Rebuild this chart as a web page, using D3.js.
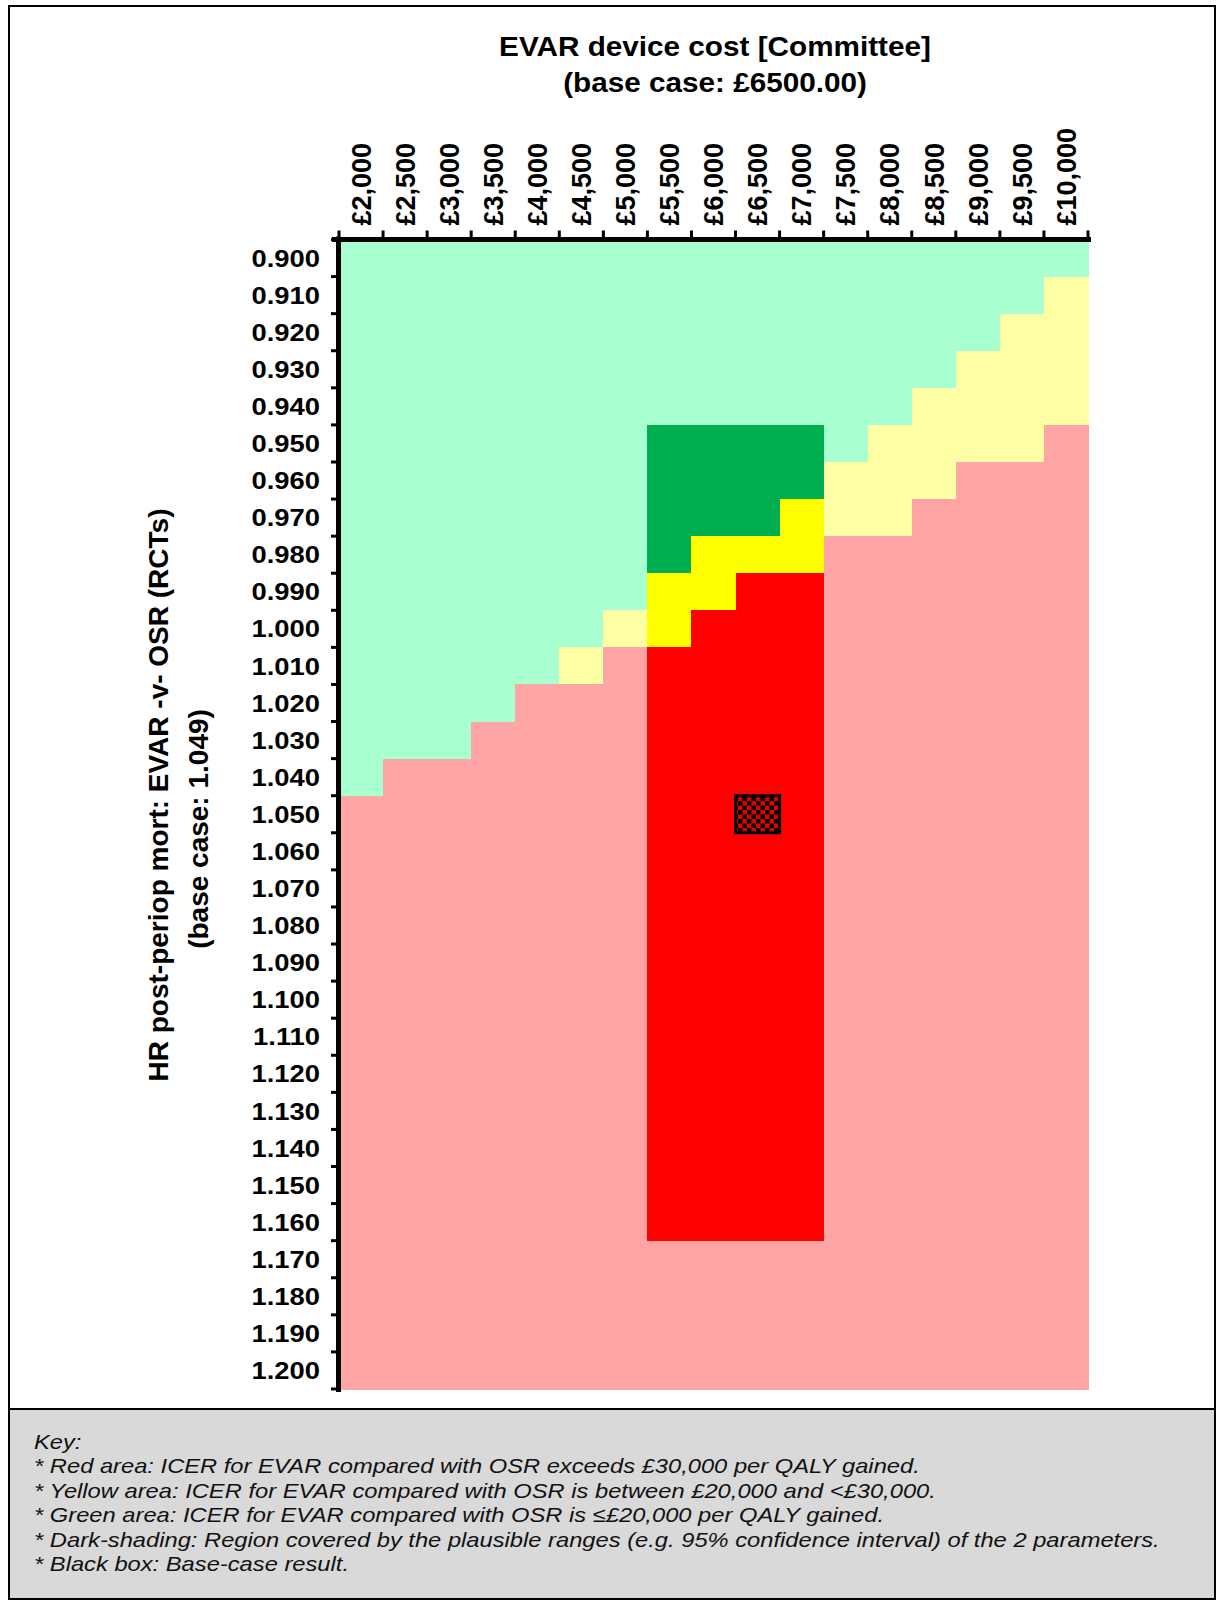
<!DOCTYPE html>
<html>
<head>
<meta charset="utf-8">
<script src="https://cdn.jsdelivr.net/npm/d3@7"></script>
<style>
  body { margin: 0; background: #fff; }
  text { font-family: "Liberation Sans", Arial, sans-serif; }
</style>
</head>
<body>
<div id="chart"></div>
<script>
// EVAR device cost columns (x) and HR rows (y)
var costs = [2000, 2500, 3000, 3500, 4000, 4500, 5000, 5500, 6000, 6500, 7000, 7500, 8000, 8500, 9000, 9500, 10000];
var hrs = [0.900, 0.910, 0.920, 0.930, 0.940, 0.950, 0.960, 0.970, 0.980, 0.990,
           1.000, 1.010, 1.020, 1.030, 1.040, 1.050, 1.060, 1.070, 1.080, 1.090,
           1.100, 1.110, 1.120, 1.130, 1.140, 1.150, 1.160, 1.170, 1.180, 1.190, 1.200];

// per cost column: last HR still green (<= £20k) and first HR already red (> £30k)
var greenMaxHR = [1.040, 1.030, 1.030, 1.020, 1.010, 1.000, 0.990, 0.980, 0.970, 0.970, 0.960, 0.950, 0.940, 0.930, 0.920, 0.910, 0.900];
var redMinHR   = [1.050, 1.040, 1.040, 1.030, 1.020, 1.020, 1.010, 1.010, 1.000, 0.990, 0.990, 0.980, 0.980, 0.970, 0.960, 0.960, 0.950];

// plausible ranges (dark shading) and base case
var plausibleCost = [5500, 7000];
var plausibleHR = [0.950, 1.160];
var baseCost = 6500, baseHR = 1.050;

var keyLines = [
  "Key:",
  "* Red area: ICER for EVAR compared with OSR exceeds £30,000 per QALY gained.",
  "* Yellow area: ICER for EVAR compared with OSR is between £20,000 and <£30,000.",
  "* Green area: ICER for EVAR compared with OSR is \u2264£20,000 per QALY gained.",
  "* Dark-shading: Region covered by the plausible ranges (e.g. 95% confidence interval) of the 2 parameters.",
  "* Black box: Base-case result."
];

var colors = {
  light: {green: "#a8ffcf", yellow: "#ffffa5", red: "#ffa5a5"},
  dark:  {green: "#00b050", yellow: "#ffff00", red: "#ff0000"}
};

var W = 1224, H = 1603;
var x0 = 339, x1 = 1088, y0 = 239.5, y1 = 1389;

var svg = d3.select("#chart").append("svg")
  .attr("width", W)
  .attr("height", H);

// outer frame + key box
svg.append("rect")
  .attr("x", 9).attr("y", 6).attr("width", 1206).attr("height", 1593)
  .attr("fill", "#fff").attr("stroke", "#000").attr("stroke-width", 2);
svg.append("rect")
  .attr("x", 9).attr("y", 1409).attr("width", 1206).attr("height", 190)
  .attr("fill", "#d9d9d9").attr("stroke", "#000").attr("stroke-width", 2);

var x = d3.scaleBand().domain(costs).range([x0, x1]).padding(0);
var y = d3.scaleBand().domain(hrs).range([y0, y1]).padding(0);

// build the cells
var cells = [];
costs.forEach(function(c, i) {
  hrs.forEach(function(h) {
    var k = Math.round(h * 1000);
    var zone = k <= Math.round(greenMaxHR[i] * 1000) ? "green"
             : (k >= Math.round(redMinHR[i] * 1000) ? "red" : "yellow");
    var dark = c >= plausibleCost[0] && c <= plausibleCost[1] &&
               k >= Math.round(plausibleHR[0] * 1000) && k <= Math.round(plausibleHR[1] * 1000);
    cells.push({cost: c, hr: h, zone: zone, dark: dark});
  });
});

svg.append("g")
  .attr("shape-rendering", "crispEdges")
  .selectAll("rect")
  .data(cells)
  .enter()
  .append("rect")
    .attr("x", function(d) { return x(d.cost); })
    .attr("y", function(d) { return y(d.hr); })
    .attr("width", x.bandwidth() + 0.5)
    .attr("height", y.bandwidth() + 0.5)
    .attr("fill", function(d) { return d.dark ? colors.dark[d.zone] : colors.light[d.zone]; });

// checker pattern for base-case box
var pat = svg.append("defs").append("pattern")
  .attr("id", "checker")
  .attr("patternUnits", "userSpaceOnUse")
  .attr("width", 9).attr("height", 9);
pat.append("rect").attr("width", 9).attr("height", 9).attr("fill", "#e00000");
pat.append("rect").attr("width", 4.5).attr("height", 4.5).attr("fill", "#000");
pat.append("rect").attr("x", 4.5).attr("y", 4.5).attr("width", 4.5).attr("height", 4.5).attr("fill", "#000");

svg.append("rect")
  .attr("x", x(baseCost))
  .attr("y", y(baseHR))
  .attr("width", x.bandwidth())
  .attr("height", y.bandwidth())
  .attr("fill", "url(#checker)")
  .attr("stroke", "#000")
  .attr("stroke-width", 3);

// top axis: labels at band centres
var xAxis = svg.append("g")
  .attr("transform", "translate(0," + y0 + ")")
  .call(d3.axisTop(x).tickSize(0).tickFormat(function(d) { return "£" + d3.format(",")(d); }));
xAxis.select(".domain").remove();
xAxis.selectAll("text")
  .attr("transform", "rotate(-90)")
  .attr("x", 14)
  .attr("y", 0)
  .attr("dy", "0.36em")
  .style("text-anchor", "start")
  .style("font-family", "'Liberation Sans', Arial, sans-serif")
  .style("font-size", "27px")
  .style("font-weight", "bold")
  .attr("fill", "#000");

// left axis labels
var yAxis = svg.append("g")
  .attr("transform", "translate(" + x0 + ",0)")
  .call(d3.axisLeft(y).tickSize(0).tickPadding(0).tickFormat(d3.format(".3f")));
yAxis.select(".domain").remove();
yAxis.selectAll("text")
  .attr("x", 0)
  .attr("dy", "0.36em")
  .attr("transform", "translate(-19,0) scale(1.14,1)")
  .style("font-family", "'Liberation Sans', Arial, sans-serif")
  .style("font-size", "24px")
  .style("font-weight", "bold")
  .attr("fill", "#000");

// axis lines and tick marks at band edges
var xEdges = costs.map(function(c) { return x(c); }).concat([x.range()[1]]);
var yEdges = hrs.map(function(h) { return y(h); }).concat([y.range()[1]]);

svg.append("line")
  .attr("x1", x0 - 7).attr("x2", x1 + 3)
  .attr("y1", y0).attr("y2", y0)
  .attr("stroke", "#000").attr("stroke-width", 5);
svg.append("line")
  .attr("x1", x0 - 0.5).attr("x2", x0 - 0.5)
  .attr("y1", y0 - 3).attr("y2", y1 + 3)
  .attr("stroke", "#000").attr("stroke-width", 5);

svg.append("g").selectAll("line")
  .data(xEdges)
  .enter().append("line")
    .attr("x1", function(d) { return d; })
    .attr("x2", function(d) { return d; })
    .attr("y1", y0 - 9).attr("y2", y0)
    .attr("stroke", "#000").attr("stroke-width", 3);

svg.append("g").selectAll("line")
  .data(yEdges)
  .enter().append("line")
    .attr("x1", x0 - 8).attr("x2", x0)
    .attr("y1", function(d) { return d; })
    .attr("y2", function(d) { return d; })
    .attr("stroke", "#000").attr("stroke-width", 3);

// titles
svg.append("text")
  .attr("transform", "translate(715,56) scale(1.1,1)")
  .attr("text-anchor", "middle")
  .style("font-size", "27px")
  .style("font-weight", "bold")
  .text("EVAR device cost [Committee]");
svg.append("text")
  .attr("transform", "translate(715,92) scale(1.1,1)")
  .attr("text-anchor", "middle")
  .style("font-size", "27px")
  .style("font-weight", "bold")
  .text("(base case: £6500.00)");

svg.append("text")
  .attr("transform", "translate(168,795) rotate(-90)")
  .attr("text-anchor", "middle")
  .style("font-size", "28px")
  .style("font-weight", "bold")
  .text("HR post-periop mort: EVAR -v- OSR (RCTs)");
svg.append("text")
  .attr("transform", "translate(208,829) rotate(-90)")
  .attr("text-anchor", "middle")
  .style("font-size", "28px")
  .style("font-weight", "bold")
  .text("(base case: 1.049)");

// key text
svg.append("g").selectAll("text")
  .data(keyLines)
  .enter().append("text")
    .attr("transform", function(d, i) { return "translate(34," + (1449 + i * 24.4) + ") scale(1.13,1)"; })
    .style("font-size", "21px")
    .style("font-style", "italic")
    .attr("fill", "#111")
    .text(function(d) { return d; });
</script>
</body>
</html>
